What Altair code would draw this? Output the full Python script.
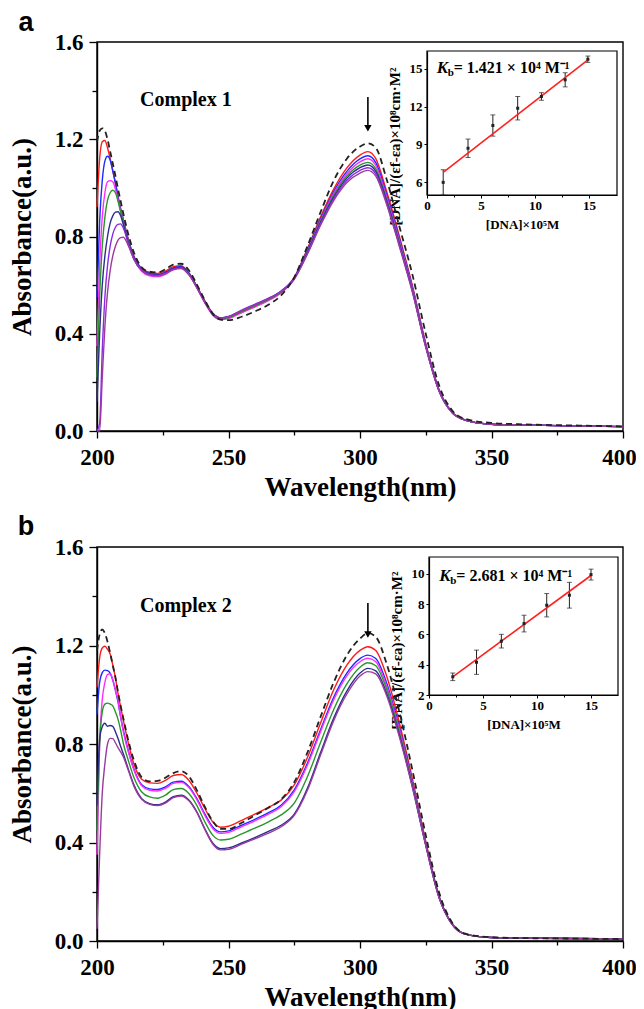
import altair as alt
import pandas as pd

WL = [200, 201, 202, 203, 204, 205, 206, 207, 208, 209, 210, 212, 214, 217, 220, 223,
      226, 229, 232, 235, 238, 241, 244, 247, 250, 255, 260, 265, 270, 275, 280, 285,
      290, 295, 300, 303, 306, 310, 315, 320, 325, 330, 335, 340, 350, 360, 380, 400]

# ---------------- Panel a (Complex 1) ----------------
FREE_A = [1.19, 1.235, 1.245, 1.235, 1.20, 1.15, 1.10, 1.05, 0.995, 0.945, 0.895, 0.805, 0.735, 0.673, 0.655, 0.652,
          0.665, 0.684, 0.688, 0.66, 0.602, 0.538, 0.483, 0.458, 0.456, 0.470, 0.492, 0.518, 0.558, 0.632, 0.760, 0.900,
          1.030, 1.120, 1.170, 1.183, 1.165, 1.040, 0.840, 0.640, 0.400, 0.190, 0.085, 0.050, 0.033, 0.028, 0.023, 0.019]
RED_A = [0.92, 1.12, 1.19, 1.195, 1.165, 1.12, 1.07, 1.02, 0.965, 0.915, 0.87, 0.785, 0.72, 0.668, 0.652, 0.648,
         0.658, 0.676, 0.680, 0.650, 0.595, 0.535, 0.484, 0.465, 0.468, 0.490, 0.513, 0.538, 0.572, 0.632, 0.750, 0.880,
         0.995, 1.082, 1.135, 1.149, 1.120, 0.990, 0.800, 0.595, 0.360, 0.172, 0.078, 0.045, 0.028, 0.025, 0.021, 0.018]
BLUE_A = [0.55, 0.86, 1.03, 1.11, 1.13, 1.115, 1.07, 1.02, 0.962, 0.912, 0.866, 0.782, 0.718, 0.666, 0.648, 0.643,
          0.653, 0.671, 0.676, 0.647, 0.593, 0.533, 0.483, 0.465, 0.470, 0.494, 0.518, 0.542, 0.574, 0.630, 0.745, 0.872,
          0.985, 1.068, 1.119, 1.132, 1.104, 0.977, 0.790, 0.588, 0.356, 0.170, 0.077, 0.045, 0.028, 0.025, 0.021, 0.018]
MAG_A = [0.35, 0.68, 0.88, 0.98, 1.025, 1.03, 1.025, 0.995, 0.952, 0.905, 0.86, 0.776, 0.71, 0.657, 0.638, 0.634,
         0.644, 0.663, 0.668, 0.641, 0.588, 0.527, 0.476, 0.458, 0.462, 0.486, 0.510, 0.535, 0.568, 0.626, 0.740, 0.866,
         0.977, 1.058, 1.107, 1.120, 1.092, 0.967, 0.782, 0.583, 0.353, 0.169, 0.077, 0.045, 0.028, 0.025, 0.021, 0.018]
GREEN_A = [0.22, 0.55, 0.76, 0.88, 0.95, 0.98, 0.99, 0.98, 0.945, 0.90, 0.857, 0.776, 0.713, 0.662, 0.643, 0.639,
           0.649, 0.667, 0.672, 0.644, 0.591, 0.530, 0.479, 0.461, 0.466, 0.490, 0.514, 0.539, 0.571, 0.627, 0.738, 0.862,
           0.970, 1.049, 1.094, 1.105, 1.078, 0.957, 0.774, 0.578, 0.350, 0.168, 0.076, 0.045, 0.028, 0.025, 0.021, 0.018]
NAVY_A = [0.12, 0.40, 0.60, 0.72, 0.80, 0.855, 0.885, 0.90, 0.902, 0.885, 0.85, 0.772, 0.712, 0.663, 0.645, 0.641,
          0.650, 0.668, 0.673, 0.645, 0.592, 0.532, 0.482, 0.464, 0.470, 0.495, 0.519, 0.543, 0.575, 0.628, 0.735, 0.857,
          0.962, 1.040, 1.083, 1.094, 1.068, 0.950, 0.768, 0.574, 0.348, 0.167, 0.076, 0.045, 0.028, 0.025, 0.021, 0.018]
VIOLET_A = [0.0, 0.03, 0.33, 0.55, 0.68, 0.76, 0.81, 0.838, 0.85, 0.852, 0.835, 0.768, 0.71, 0.662, 0.644, 0.640,
            0.649, 0.666, 0.671, 0.644, 0.591, 0.531, 0.482, 0.465, 0.471, 0.497, 0.521, 0.545, 0.576, 0.627, 0.731, 0.852,
            0.955, 1.031, 1.072, 1.083, 1.058, 0.943, 0.763, 0.571, 0.346, 0.166, 0.076, 0.045, 0.028, 0.025, 0.021, 0.018]
PURPLE_A = [0.0, 0.0, 0.22, 0.43, 0.57, 0.66, 0.72, 0.76, 0.785, 0.795, 0.797, 0.76, 0.706, 0.660, 0.642, 0.638,
            0.647, 0.664, 0.669, 0.642, 0.589, 0.529, 0.480, 0.463, 0.469, 0.494, 0.518, 0.542, 0.573, 0.624, 0.727, 0.846,
            0.948, 1.022, 1.061, 1.072, 1.048, 0.936, 0.758, 0.568, 0.345, 0.166, 0.076, 0.045, 0.028, 0.025, 0.021, 0.018]

# ---------------- Panel b (Complex 2) ----------------
FREE_B = [1.18, 1.245, 1.265, 1.25, 1.215, 1.17, 1.12, 1.07, 1.01, 0.955, 0.905, 0.81, 0.735, 0.665, 0.648, 0.650,
          0.663, 0.682, 0.690, 0.668, 0.612, 0.545, 0.487, 0.455, 0.455, 0.480, 0.510, 0.540, 0.575, 0.645, 0.765, 0.910,
          1.050, 1.160, 1.228, 1.250, 1.235, 1.130, 0.930, 0.690, 0.430, 0.200, 0.075, 0.030, 0.015, 0.012, 0.010, 0.008]
RED_B = [1.03, 1.15, 1.19, 1.197, 1.185, 1.165, 1.12, 1.07, 1.005, 0.95, 0.897, 0.80, 0.72, 0.657, 0.642, 0.640,
         0.652, 0.672, 0.676, 0.652, 0.600, 0.538, 0.484, 0.462, 0.466, 0.490, 0.515, 0.542, 0.572, 0.634, 0.745, 0.885,
         1.020, 1.120, 1.180, 1.195, 1.180, 1.080, 0.885, 0.655, 0.405, 0.185, 0.070, 0.028, 0.014, 0.012, 0.010, 0.008]
BLUE_B = [0.92, 1.05, 1.09, 1.10, 1.098, 1.088, 1.06, 1.018, 0.97, 0.91, 0.857, 0.77, 0.70, 0.635, 0.618, 0.615,
          0.626, 0.645, 0.649, 0.627, 0.578, 0.516, 0.463, 0.443, 0.447, 0.470, 0.494, 0.520, 0.551, 0.614, 0.722, 0.858,
          0.990, 1.088, 1.147, 1.161, 1.147, 1.052, 0.865, 0.642, 0.398, 0.182, 0.069, 0.028, 0.014, 0.012, 0.010, 0.008]
MAG_B = [0.35, 0.80, 0.98, 1.05, 1.082, 1.085, 1.06, 1.02, 0.975, 0.91, 0.85, 0.765, 0.695, 0.630, 0.612, 0.609,
         0.620, 0.640, 0.644, 0.622, 0.573, 0.510, 0.457, 0.437, 0.441, 0.464, 0.488, 0.514, 0.545, 0.607, 0.714, 0.850,
         0.980, 1.077, 1.134, 1.148, 1.134, 1.040, 0.857, 0.636, 0.395, 0.181, 0.069, 0.028, 0.014, 0.012, 0.010, 0.008]
GREEN_B = [0.45, 0.80, 0.93, 0.962, 0.966, 0.962, 0.955, 0.93, 0.90, 0.855, 0.803, 0.73, 0.665, 0.605, 0.585, 0.580,
           0.592, 0.615, 0.619, 0.598, 0.550, 0.484, 0.430, 0.410, 0.413, 0.435, 0.458, 0.483, 0.512, 0.560, 0.667, 0.806,
           0.940, 1.044, 1.112, 1.130, 1.118, 1.027, 0.846, 0.630, 0.392, 0.180, 0.069, 0.028, 0.014, 0.012, 0.010, 0.008]
NAVY_B = [0.55, 0.82, 0.87, 0.884, 0.872, 0.875, 0.872, 0.85, 0.822, 0.79, 0.76, 0.695, 0.635, 0.578, 0.558, 0.553,
          0.564, 0.586, 0.592, 0.572, 0.524, 0.456, 0.398, 0.375, 0.378, 0.398, 0.420, 0.444, 0.470, 0.515, 0.620, 0.765,
          0.905, 1.015, 1.088, 1.107, 1.097, 1.010, 0.835, 0.624, 0.389, 0.179, 0.069, 0.028, 0.014, 0.012, 0.010, 0.008]
PURPLE_B = [0.05, 0.35, 0.60, 0.72, 0.80, 0.823, 0.822, 0.805, 0.785, 0.768, 0.748, 0.69, 0.63, 0.575, 0.555, 0.550,
            0.560, 0.582, 0.589, 0.569, 0.521, 0.453, 0.394, 0.370, 0.372, 0.393, 0.415, 0.437, 0.464, 0.510, 0.612, 0.755,
            0.895, 1.003, 1.076, 1.094, 1.085, 1.000, 0.828, 0.620, 0.387, 0.178, 0.069, 0.028, 0.014, 0.012, 0.010, 0.008]

# ---------------- Insets ----------------
INS_A_X = [1.5, 3.8, 6.1, 8.4, 10.6, 12.8, 14.9]
INS_A_Y = [6.0, 8.7, 10.5, 11.87, 12.8, 14.12, 15.75]
INS_A_E = [1.0, 0.73, 0.84, 0.93, 0.3, 0.56, 0.25]
FIT_A_X = [1.5, 15.0]
FIT_A_Y = [6.8, 15.75]

INS_B_X = [2.2, 4.4, 6.7, 8.8, 10.9, 13.0, 15.0]
INS_B_Y = [3.2, 4.16, 5.55, 6.71, 7.92, 8.58, 9.94]
INS_B_E = [0.25, 0.8, 0.45, 0.55, 0.77, 0.85, 0.36]
FIT_B_X = [2.2, 15.0]
FIT_B_Y = [3.2, 9.88]

NAMES = ["red", "blue", "magenta", "green", "navy", "violet", "purple"]
COLORS = ["#ff1a1a", "#1a2cff", "#ff2bff", "#2a962a", "#2c2c8c", "#8a2be2", "#9a3aa0"]

X_TICKS = [200, 225, 250, 275, 300, 325, 350, 375, 400]
Y_TICKS = [0.0, 0.2, 0.4, 0.6, 0.8, 1.0, 1.2, 1.4, 1.6]

SERIF = "Liberation Serif"
W = 526
H = 899            # from top of panel a to bottom of panel b
A_RANGE = [389, 0]
B_RANGE = [899, 505]


def main_layer(curves, free, yrange, arrow, ctext, cpos, letter, letter_y, key):
    rows = []
    for name, vals in curves:
        for w, a in zip(WL, vals):
            rows.append({f"wl{key}": w, f"A{key}": a, "s": name})
    df = pd.DataFrame(rows)

    xs = alt.Scale(domain=[200, 400], range=[0, W], nice=False, zero=False)
    ys = alt.Scale(domain=[0, 1.6], range=yrange, nice=False, zero=False)
    xax = alt.Axis(orient="bottom", offset=-(H - yrange[0]), values=X_TICKS,
                   labelExpr="datum.value % 50 == 0 ? datum.label : ''",
                   tickSize={"condition": {"test": "datum.value % 50 == 0", "value": 7}, "value": 4},
                   labelOffset={"condition": {"test": "datum.value == 400", "value": -4}, "value": 0},
                   title="Wavelength(nm)", labelFontSize=23, titleFontSize=27,
                   labelPadding=8, titlePadding=5, labelOverlap=False, labelFlush=False)
    yax = alt.Axis(orient="left", values=Y_TICKS,
                   labelExpr="round(datum.value*10) % 4 == 0 ? format(datum.value, '.1f') : ''",
                   tickSize={"condition": {"test": "round(datum.value*10) % 4 == 0", "value": 8}, "value": 5},
                   title="Absorbance(a.u.)", labelFontSize=23, titleFontSize=27,
                   labelPadding=6, titlePadding=18, labelOverlap=False, labelFlush=False)

    X = alt.X(f"wl{key}:Q", scale=xs, axis=xax)
    Y = alt.Y(f"A{key}:Q", scale=ys, axis=yax)

    frame = alt.Chart(pd.DataFrame({f"wl{key}": [200], "w2": [400], f"A{key}": [0.0], "a2": [1.6]})).mark_rect(
        fillOpacity=0, stroke="black", strokeWidth=1.4).encode(x=X, x2="w2:Q", y=Y, y2="a2:Q")
    lines = alt.Chart(df).mark_line(strokeWidth=1.4, interpolate="monotone").encode(
        x=X, y=Y,
        color=alt.Color("s:N", scale=alt.Scale(domain=NAMES, range=COLORS), legend=None))
    dashed = alt.Chart(pd.DataFrame({f"wl{key}": WL, f"A{key}": free})).mark_line(
        color="#222222", strokeDash=[6, 4], strokeWidth=1.8, interpolate="monotone").encode(x=X, y=Y)
    adf = pd.DataFrame({f"wl{key}": [arrow[0]], f"A{key}": [arrow[1]], "A2": [arrow[2]]})
    rule = alt.Chart(adf).mark_rule(color="black", strokeWidth=1.6).encode(x=X, y=Y, y2="A2:Q")
    head = alt.Chart(adf).mark_point(shape="triangle-down", filled=True, color="black",
                                     size=55, opacity=1).encode(x=X, y=alt.Y("A2:Q", scale=ys, axis=yax))
    tdf = pd.DataFrame({f"wl{key}": [cpos[0]], f"A{key}": [cpos[1]], "t": [ctext]})
    ctxt = alt.Chart(tdf).mark_text(font=SERIF, fontSize=20, fontWeight="bold", color="black").encode(
        x=X, y=Y, text="t:N")
    ldf = pd.DataFrame({"t": [letter]})
    let = alt.Chart(ldf).mark_text(font="Liberation Sans", fontSize=27, fontWeight="bold", color="black",
                                   align="center", baseline="alphabetic").encode(
        x=alt.value(-71), y=alt.value(letter_y), text="t:N")
    return alt.layer(frame, lines, dashed, rule, head, ctxt, let)


def inset_layer(ins, key):
    ixs = alt.Scale(domain=ins["xdom"], range=ins["xrange"], nice=False, zero=False)
    iys = alt.Scale(domain=ins["ydom"], range=ins["yrange"], nice=False, zero=False)
    ixax = alt.Axis(orient="bottom", offset=-(H - ins["yrange"][0]), values=[0, 2.5, 5, 7.5, 10, 12.5, 15],
                    labelExpr="datum.value % 5 == 0 ? datum.label : ''",
                    tickSize={"condition": {"test": "datum.value % 5 == 0", "value": 3}, "value": 2},
                    title="[DNA]×10⁵M", titleFontSize=13, labelFontSize=13,
                    labelPadding=1, titlePadding=6, labelOverlap=False, labelFlush=False,
                    domainWidth=1.2, tickWidth=1)
    iyax = alt.Axis(orient="left", offset=-ins["xrange"][0], values=ins["yticks"], tickSize=3,
                    title="[DNA]/(εf-εa)×10⁸cm·M²", titleFontSize=15, labelFontSize=13,
                    labelPadding=2, titlePadding=7, titleY=ins["titley"],
                    labelOverlap=False, labelFlush=False, domainWidth=1.2, tickWidth=1)
    cx, cy = f"cx{key}", f"cy{key}"
    IX = alt.X(f"{cx}:Q", scale=ixs, axis=ixax)
    IY = alt.Y(f"{cy}:Q", scale=iys, axis=iyax)
    IYlo = alt.Y("lo:Q", scale=iys, axis=iyax)
    IYhi = alt.Y("hi:Q", scale=iys, axis=iyax)

    bdf = pd.DataFrame({cx: [ins["xdom"][0]], "cx2": [ins["xdom"][1]],
                        cy: [ins["ydom"][0]], "cy2": [ins["ydom"][1]]})
    box = alt.Chart(bdf).mark_rect(fillOpacity=0, stroke="black", strokeWidth=1.2).encode(
        x=IX, x2="cx2:Q", y=IY, y2="cy2:Q")
    edf = pd.DataFrame({cx: ins["px"], cy: ins["py"],
                        "lo": [y - e for y, e in zip(ins["py"], ins["pe"])],
                        "hi": [y + e for y, e in zip(ins["py"], ins["pe"])]})
    erule = alt.Chart(edf).mark_rule(color="#222222", strokeWidth=1).encode(x=IX, y=IYlo, y2="hi:Q")
    cap_lo = alt.Chart(edf).mark_tick(orient="horizontal", size=5, thickness=1, color="#222222").encode(
        x=IX, y=IYlo)
    cap_hi = alt.Chart(edf).mark_tick(orient="horizontal", size=5, thickness=1, color="#222222").encode(
        x=IX, y=IYhi)
    fit = alt.Chart(pd.DataFrame({cx: ins["fx"], cy: ins["fy"]})).mark_line(
        color="#ff2020", strokeWidth=1.6).encode(x=IX, y=IY)
    pts = alt.Chart(edf).mark_square(size=9, color="#222222", opacity=1).encode(x=IX, y=IY)
    kdf = pd.DataFrame({cx: [ins["kpos"][0]], cy: [ins["kpos"][1]],
                        "k": ["K"], "sub": ["b"], "rest": [ins["ktext"]]})
    k1 = alt.Chart(kdf).mark_text(font=SERIF, fontSize=17, fontWeight="bold", fontStyle="italic",
                                  align="left", baseline="middle", color="black").encode(x=IX, y=IY, text="k:N")
    k2 = alt.Chart(kdf).mark_text(font=SERIF, fontSize=11, fontWeight="bold", align="left",
                                  baseline="middle", dx=11, dy=5, color="black").encode(x=IX, y=IY, text="sub:N")
    k3 = alt.Chart(kdf).mark_text(font=SERIF, fontSize=16, fontWeight="bold", align="left",
                                  baseline="middle", dx=17, color="black").encode(x=IX, y=IY, text="rest:N")
    return alt.layer(box, erule, cap_lo, cap_hi, fit, pts, k1, k2, k3)


curves_a = list(zip(NAMES, [RED_A, BLUE_A, MAG_A, GREEN_A, NAVY_A, VIOLET_A, PURPLE_A]))
curves_b = list(zip(["red", "blue", "magenta", "green", "navy", "purple"],
                    [RED_B, BLUE_B, MAG_B, GREEN_B, NAVY_B, PURPLE_B]))

ins_a = {"xdom": [0, 17.6], "xrange": [330, 520], "ydom": [5, 16.4], "yrange": [153, 9],
         "yticks": [6, 9, 12, 15], "px": INS_A_X, "py": INS_A_Y, "pe": INS_A_E, "titley": 104,
         "fx": FIT_A_X, "fy": FIT_A_Y, "kpos": [0.9, 15.05], "ktext": "= 1.421 × 10⁴ M⁻¹"}
ins_b = {"xdom": [0, 17.5], "xrange": [332, 521], "ydom": [2, 11.1], "yrange": [653, 515],
         "yticks": [2, 4, 6, 8, 10], "px": INS_B_X, "py": INS_B_Y, "pe": INS_B_E, "titley": 608,
         "fx": FIT_B_X, "fy": FIT_B_Y, "kpos": [0.95, 9.87], "ktext": "= 2.681 × 10⁴ M⁻¹"}

main_a = main_layer(curves_a, FREE_A, A_RANGE, [303, 1.374, 1.245], "Complex 1", [233.8, 1.362], "a", -11, "a")
main_b = main_layer(curves_b, FREE_B, B_RANGE, [303, 1.373, 1.245], "Complex 2", [233.8, 1.36], "b", 493, "b")
inset_a = inset_layer(ins_a, "a")
inset_b = inset_layer(ins_b, "b")

chart = alt.layer(main_a, inset_a, main_b, inset_b).resolve_scale(
    x="independent", y="independent"
).resolve_axis(x="independent", y="independent").properties(
    width=W, height=H,
    autosize=alt.AutoSizeParams(type="none"),
    padding={"left": 89, "top": 34, "right": 13, "bottom": 68}
).configure_view(stroke=None).configure_axis(
    labelFont=SERIF, titleFont=SERIF, labelFontWeight="bold", titleFontWeight="bold",
    labelColor="black", titleColor="black", domainColor="black", tickColor="black",
    domainWidth=1.4, tickWidth=1.3, grid=False
)

chart.save("out.html", embed_options={"renderer": "svg", "actions": False})
